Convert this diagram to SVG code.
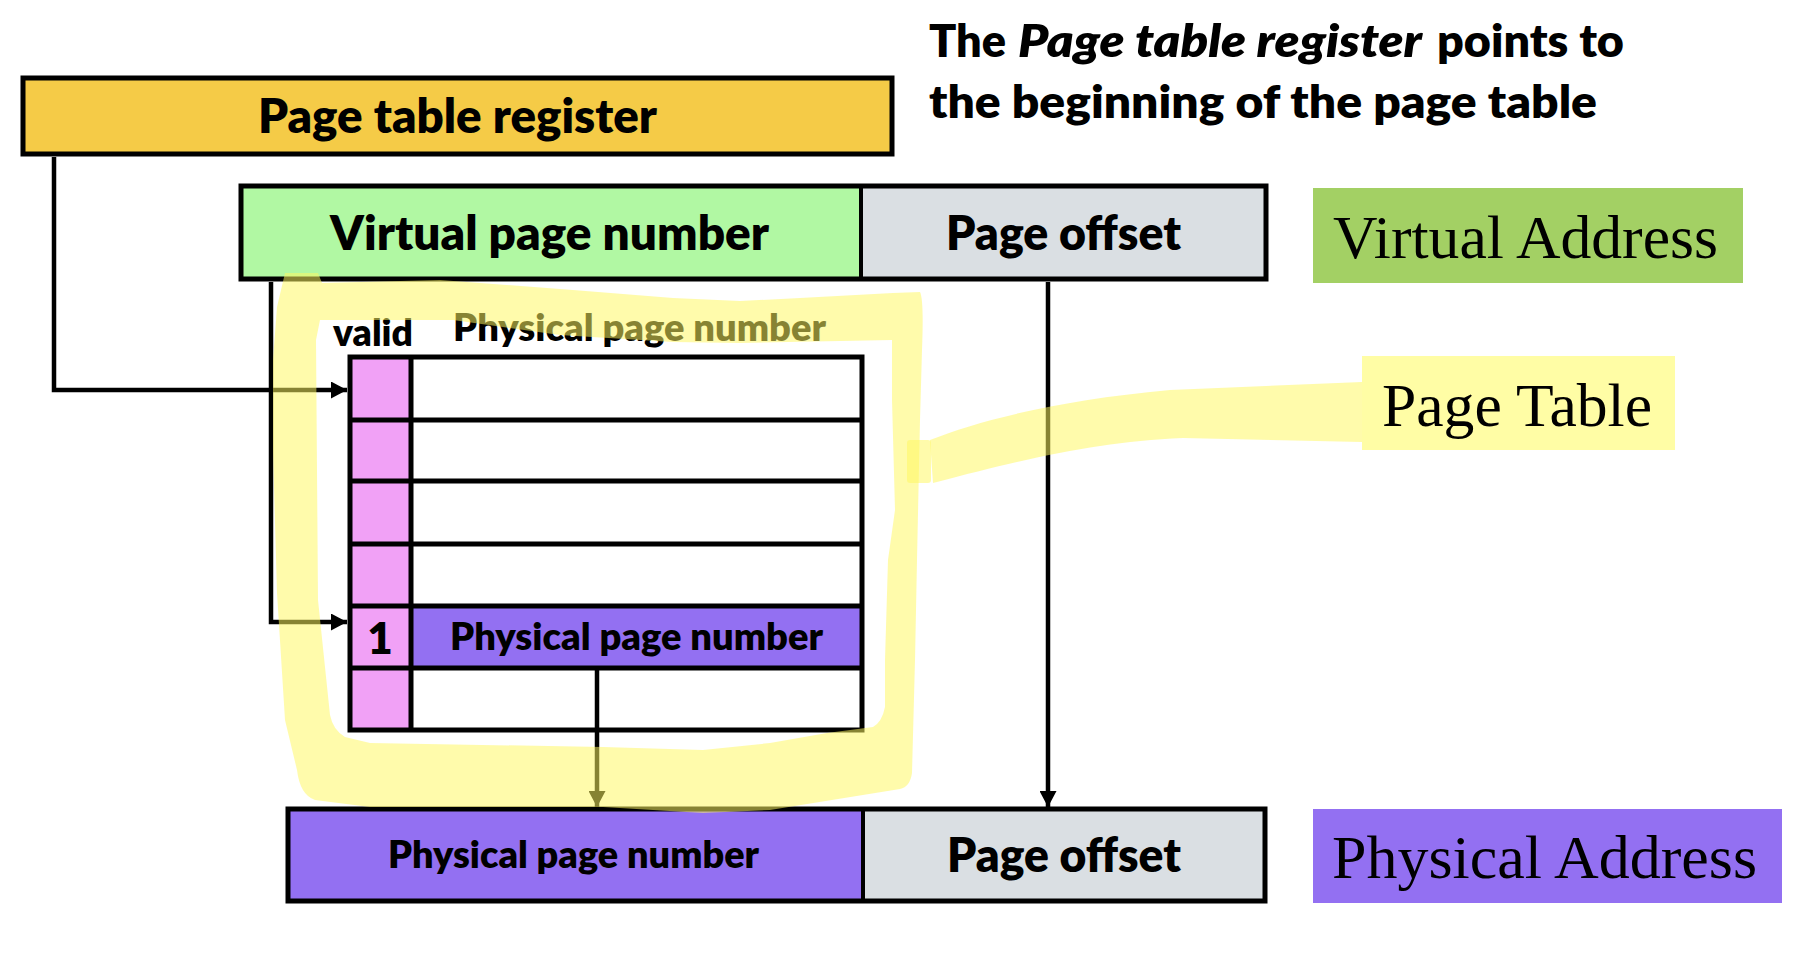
<svg xmlns="http://www.w3.org/2000/svg" width="1800" height="960" viewBox="0 0 1800 960">
  <style>
    .sans { font-family: Lato, "Open Sans", "Liberation Sans", sans-serif; font-weight: 800; fill: #000; }
    .serif { font-family: "Liberation Serif", "DejaVu Serif", serif; font-weight: 400; fill: #000; }
    .box { stroke: #000; stroke-width: 5; }
    .wire { fill: none; stroke: #000; stroke-width: 4.5; }
    .hl { fill: #FFF860; opacity: 0.53; }
  </style>
  <defs>
    <marker id="arrow" markerUnits="userSpaceOnUse" markerWidth="16" markerHeight="17" refX="16" refY="8.5" orient="auto">
      <path d="M0,0 L16,8.5 L0,17 Z" fill="#000"/>
    </marker>
  </defs>
  <rect width="1800" height="960" fill="#fff"/>

  <g id="title">
    <text class="sans" y="57" font-size="46">
      <tspan x="929" textLength="77" lengthAdjust="spacingAndGlyphs">The</tspan>
      <tspan x="1018" font-style="italic" textLength="404" lengthAdjust="spacingAndGlyphs">Page table register</tspan>
      <tspan x="1437" textLength="187" lengthAdjust="spacingAndGlyphs">points to</tspan>
    </text>
    <text class="sans" x="929" y="118" font-size="46" textLength="668" lengthAdjust="spacingAndGlyphs">the beginning of the page table</text>
  </g>

  <g id="page-table-register">
    <rect class="box" x="23" y="78" width="869" height="76" fill="#F5CB47"/>
    <text class="sans" x="258" y="133" font-size="47" textLength="399" lengthAdjust="spacingAndGlyphs">Page table register</text>
  </g>

  <g id="virtual-address">
    <rect x="241" y="186" width="620" height="93" fill="#B1F8A3"/>
    <rect x="861" y="186" width="405" height="93" fill="#DADFE3"/>
    <rect class="box" x="241" y="186" width="1025" height="93" fill="none"/>
    <line x1="861" y1="186" x2="861" y2="279" stroke="#000" stroke-width="4"/>
    <text class="sans" x="330" y="250" font-size="47" textLength="439" lengthAdjust="spacingAndGlyphs">Virtual page number</text>
    <text class="sans" x="946" y="250" font-size="47" textLength="235" lengthAdjust="spacingAndGlyphs">Page offset</text>
  </g>

  <g id="virtual-address-label">
    <rect x="1313" y="188" width="430" height="95" fill="#A3D064"/>
    <text class="serif" x="1333" y="258" font-size="61" textLength="385" lengthAdjust="spacingAndGlyphs">Virtual Address</text>
  </g>

  <g id="page-table">
    <text class="sans" x="333" y="346" font-size="37" textLength="80" lengthAdjust="spacingAndGlyphs">valid</text>
    <text class="sans" x="453" y="341" font-size="37" textLength="373" lengthAdjust="spacingAndGlyphs">Physical page number</text>
    <rect x="350" y="357" width="61" height="373" fill="#F1A1F6"/>
    <rect x="411" y="357" width="451" height="373" fill="#fff"/>
    <rect x="411" y="606" width="451" height="62" fill="#9370F2"/>
    <rect class="box" x="350" y="357" width="512" height="373" fill="none"/>
    <g stroke="#000" stroke-width="5">
      <line x1="411" y1="357" x2="411" y2="730"/>
      <line x1="350" y1="420" x2="862" y2="420"/>
      <line x1="350" y1="481" x2="862" y2="481"/>
      <line x1="350" y1="544" x2="862" y2="544"/>
      <line x1="350" y1="606" x2="862" y2="606"/>
      <line x1="350" y1="668" x2="862" y2="668"/>
    </g>
    <text class="sans" x="380" y="654" font-size="44" text-anchor="middle">1</text>
    <text class="sans" x="450" y="650" font-size="37" textLength="373" lengthAdjust="spacingAndGlyphs">Physical page number</text>
  </g>

  <g id="physical-address">
    <rect x="288" y="809" width="575" height="92" fill="#9370F2"/>
    <rect x="863" y="809" width="402" height="92" fill="#DADFE3"/>
    <rect class="box" x="288" y="809" width="977" height="92" fill="none"/>
    <line x1="863" y1="809" x2="863" y2="901" stroke="#000" stroke-width="4"/>
    <text class="sans" x="388" y="868" font-size="37" textLength="371" lengthAdjust="spacingAndGlyphs">Physical page number</text>
    <text class="sans" x="947" y="872" font-size="47" textLength="234" lengthAdjust="spacingAndGlyphs">Page offset</text>
  </g>

  <g id="physical-address-label">
    <rect x="1313" y="809" width="469" height="94" fill="#9370F2"/>
    <text class="serif" x="1332" y="878" font-size="61" textLength="425" lengthAdjust="spacingAndGlyphs">Physical Address</text>
  </g>

  <g id="page-table-label">
    <rect x="1362" y="356" width="313" height="94" fill="#FFFDA5"/>
    <text class="serif" x="1382" y="426" font-size="61" textLength="270" lengthAdjust="spacingAndGlyphs">Page Table</text>
  </g>

  <g id="connectors">
    <path class="wire" d="M54,157 L54,390 L347,390" marker-end="url(#arrow)"/>
    <path class="wire" d="M271,282 L271,622 L347,622" marker-end="url(#arrow)"/>
    <path class="wire" d="M597,668 L597,807" marker-end="url(#arrow)"/>
    <path class="wire" d="M1048,282 L1048,807" marker-end="url(#arrow)"/>
  </g>

  <g id="highlight">
    <path class="hl" fill-rule="evenodd" d="M285,273 L318,273 L322,283 L440,280 L573,290 L673,298 L740,301 L800,298 L893,293 L920,292 Q924,300 922,350 L920,420 L917,560 L915,660 L912,773 Q910,787 900,789 L770,810 L703,813 L603,807 L370,807 L315,800 Q300,795 297,770 L285,720 L277,593 L273,450 L273,360 L277,307 Z M320,320 L453,320 L560,335 L673,342 L740,343 L892,340 L892,400 L895,510 L888,560 L885,660 L885,707 Q882,722 873,727 L827,733 L770,743 L703,750 L603,747 L370,743 L345,737 Q333,730 330,715 L318,600 L316,340 Z"/>
    <path class="hl" d="M930,440 C980,420 1060,400 1170,390 L1362,382 L1362,442 L1183,438 C1100,442 1040,455 933,483 Z"/>
    <rect class="hl" x="907" y="440" width="24" height="43" rx="3"/>
  </g>
</svg>
